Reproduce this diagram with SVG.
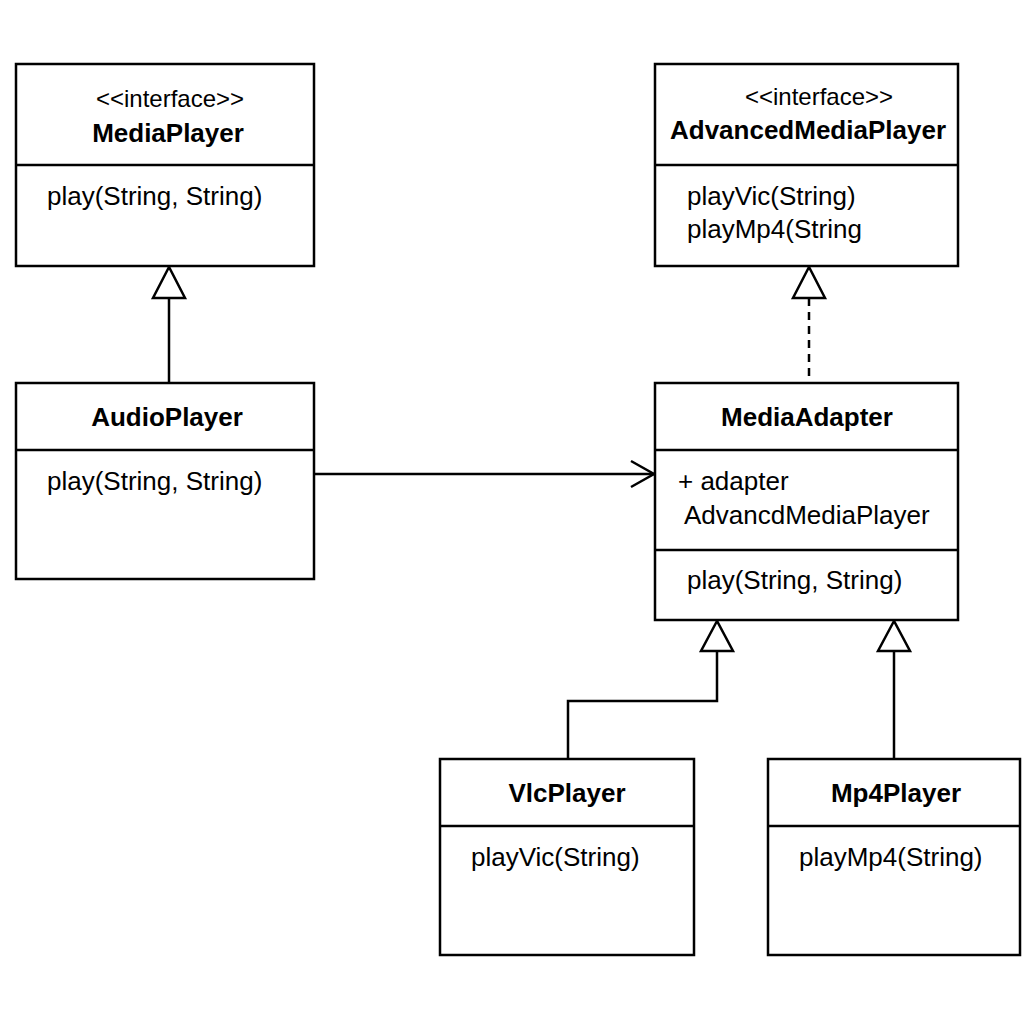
<svg xmlns="http://www.w3.org/2000/svg" width="1024" height="1024" viewBox="0 0 1024 1024">
<defs>
<style>
.box{fill:#fff;stroke:#000;stroke-width:2.5}
.div{stroke:#000;stroke-width:2.5}
.t{font-family:"Liberation Sans",Arial,sans-serif;font-size:26px;fill:#000}
.b{font-weight:bold;text-anchor:middle}
.s{font-size:24px;text-anchor:middle}
.c{fill:none;stroke:#000;stroke-width:2.5}
.tri{fill:#fff;stroke:#000;stroke-width:2.5}
</style>
</defs>
<rect width="1024" height="1024" fill="#fff"/>
<g id="connectors">
<line class="c" x1="169" y1="298" x2="169" y2="383"/>
<polygon class="tri" points="169,267 153,298 185,298"/>
<line class="c" x1="809" y1="298" x2="809" y2="380" stroke-dasharray="8,6"/>
<polygon class="tri" points="809,267 793,298 825,298"/>
<line class="c" x1="314" y1="474" x2="654" y2="474"/>
<polyline class="c" points="631,461 654,474 631,487"/>
<polyline class="c" points="717,651 717,701 568,701 568,759"/>
<polygon class="tri" points="717,621 701,651 733,651"/>
<line class="c" x1="894" y1="651" x2="894" y2="759"/>
<polygon class="tri" points="894,621 878,651 910,651"/>
</g>
<g id="MediaPlayer">
<rect class="box" x="16" y="64" width="298" height="202"/>
<line class="div" x1="16" y1="165" x2="314" y2="165"/>
<text class="t s" x="170" y="107">&lt;&lt;interface&gt;&gt;</text>
<text class="t b" x="168" y="142">MediaPlayer</text>
<text class="t" x="47" y="205">play(String, String)</text>
</g>
<g id="AdvancedMediaPlayer">
<rect class="box" x="655" y="64" width="303" height="202"/>
<line class="div" x1="655" y1="165" x2="958" y2="165"/>
<text class="t s" x="819" y="105">&lt;&lt;interface&gt;&gt;</text>
<text class="t b" x="808" y="139">AdvancedMediaPlayer</text>
<text class="t" x="687" y="205">playVic(String)</text>
<text class="t" x="687" y="238">playMp4(String</text>
</g>
<g id="AudioPlayer">
<rect class="box" x="16" y="383" width="298" height="196"/>
<line class="div" x1="16" y1="450" x2="314" y2="450"/>
<text class="t b" x="167" y="426">AudioPlayer</text>
<text class="t" x="47" y="490">play(String, String)</text>
</g>
<g id="MediaAdapter">
<rect class="box" x="655" y="383" width="303" height="237"/>
<line class="div" x1="655" y1="450" x2="958" y2="450"/>
<line class="div" x1="655" y1="550" x2="958" y2="550"/>
<text class="t b" x="807" y="426">MediaAdapter</text>
<text class="t" x="678" y="490">+ adapter</text>
<text class="t" x="684" y="524">AdvancdMediaPlayer</text>
<text class="t" x="687" y="589">play(String, String)</text>
</g>
<g id="VlcPlayer">
<rect class="box" x="440" y="759" width="254" height="196"/>
<line class="div" x1="440" y1="826" x2="694" y2="826"/>
<text class="t b" x="567" y="802">VlcPlayer</text>
<text class="t" x="471" y="866">playVic(String)</text>
</g>
<g id="Mp4Player">
<rect class="box" x="768" y="759" width="252" height="196"/>
<line class="div" x1="768" y1="826" x2="1020" y2="826"/>
<text class="t b" x="896" y="802">Mp4Player</text>
<text class="t" x="799" y="866">playMp4(String)</text>
</g>
</svg>
